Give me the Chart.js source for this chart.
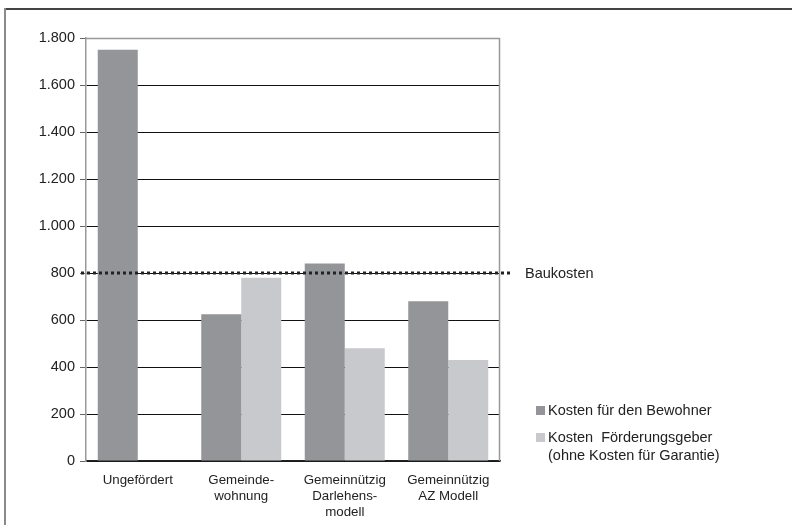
<!DOCTYPE html>
<html>
<head>
<meta charset="utf-8">
<script src="https://cdn.jsdelivr.net/npm/chart.js@4.4.1/dist/chart.umd.min.js"></script>
<style>
  html, body { margin: 0; padding: 0; background: #fff; }
  #wrap { width: 792px; height: 525px; position: relative; }
</style>
</head>
<body>
<div id="wrap"><canvas id="chart" width="792" height="525"></canvas></div>
<script>
// Kosten je Wohnmodell
const categories = [
  "Ungefördert",
  ["Gemeinde-", "wohnung"],
  ["Gemeinnützig", "Darlehens-", "modell"],
  ["Gemeinnützig", "AZ Modell"],
];
const bewohnerKosten = [1750, 625, 840, 680];
const foerderKosten = [0, 780, 480, 430];
const baukosten = 800;
const yTicks = [0, 200, 400, 600, 800, 1000, 1200, 1400, 1600, 1800];

const DARK = "#939598";
const LIGHT = "#c8c9cc";
const FONT = "'Liberation Sans', Arial, sans-serif";

const fmt = (v) => String(v).replace(/\B(?=(\d{3})+(?!\d))/g, ".");

// frame, plot border, Baukosten line and the legend
const extras = {
  id: "extras",
  beforeDraw(chart) {
    const c = chart.ctx;
    c.save();
    c.fillStyle = "#fff";
    c.fillRect(0, 0, chart.width, chart.height);
    c.strokeStyle = "#444";
    c.lineWidth = 2;
    c.beginPath();
    c.moveTo(5, 9);
    c.lineTo(chart.width, 9);
    c.stroke();
    c.strokeStyle = "#8a8a8a";
    c.beginPath();
    c.moveTo(5, 8);
    c.lineTo(5, chart.height);
    c.stroke();
    c.restore();
  },
  afterDraw(chart) {
    const c = chart.ctx;
    const a = chart.chartArea;
    const y = chart.scales.y;
    c.save();
    // top and right border of the plot
    c.strokeStyle = "#999";
    c.lineWidth = 1.5;
    c.beginPath();
    c.moveTo(a.left, a.top + 0.5);
    c.lineTo(a.right - 0.5, a.top + 0.5);
    c.lineTo(a.right - 0.5, a.bottom);
    c.stroke();

    // Baukosten
    const by = Math.round(y.getPixelForValue(baukosten));
    c.strokeStyle = "#222";
    c.lineWidth = 3;
    c.setLineDash([3, 3]);
    c.beginPath();
    c.moveTo(a.left - 5, by);
    c.lineTo(a.right + 13, by);
    c.stroke();
    c.setLineDash([]);
    c.fillStyle = "#222";
    c.font = "14.5px " + FONT;
    c.textBaseline = "middle";
    c.fillText("Baukosten", 525, by + 1);

    // legend
    const items = [
      { color: DARK, lines: ["Kosten für den Bewohner"], y: 410 },
      { color: LIGHT, lines: ["Kosten  Förderungsgeber", "(ohne Kosten für Garantie)"], y: 437 },
    ];
    items.forEach((it) => {
      c.fillStyle = it.color;
      c.fillRect(536, it.y - 4, 9, 9);
      c.fillStyle = "#222";
      it.lines.forEach((t, i) => c.fillText(t, 548, it.y + 1 + i * 18));
    });
    c.restore();
  },
};

new Chart(document.getElementById("chart"), {
  type: "bar",
  data: {
    labels: categories,
    datasets: [
      { label: "Kosten für den Bewohner", data: bewohnerKosten, backgroundColor: DARK },
      { label: "Kosten Förderungsgeber (ohne Kosten für Garantie)", data: foerderKosten, backgroundColor: LIGHT },
    ],
  },
  options: {
    responsive: false,
    animation: false,
    devicePixelRatio: 1,
    categoryPercentage: 0.773,
    barPercentage: 1,
    layout: { padding: { top: 38, right: 292, left: 0, bottom: 0 } },
    plugins: { legend: { display: false }, tooltip: { enabled: false } },
    scales: {
      x: {
        afterFit(s) { s.height = 64; },
        grid: { display: false, drawTicks: false },
        border: { color: "#222", width: 1.5 },
        ticks: {
          color: "#222",
          font: { family: FONT, size: 13.3, lineHeight: 1.2 },
          padding: 11,
          maxRotation: 0,
          autoSkip: false,
        },
      },
      y: {
        min: 0,
        max: 1800,
        afterFit(s) { s.width = 86; },
        afterBuildTicks(s) { s.ticks = yTicks.map((v) => ({ value: v })); },
        border: { color: "#999", width: 1.5 },
        grid: {
          color: (ctx) => (ctx.tick && ctx.tick.value === 1800 ? "#999" : "#111"),
          lineWidth: 1,
          tickColor: "#666",
          tickLength: 6,
        },
        ticks: {
          color: "#222",
          font: { family: FONT, size: 14.5 },
          padding: 5,
          callback: (v) => fmt(v),
        },
      },
    },
  },
  plugins: [extras],
});
</script>
</body>
</html>
